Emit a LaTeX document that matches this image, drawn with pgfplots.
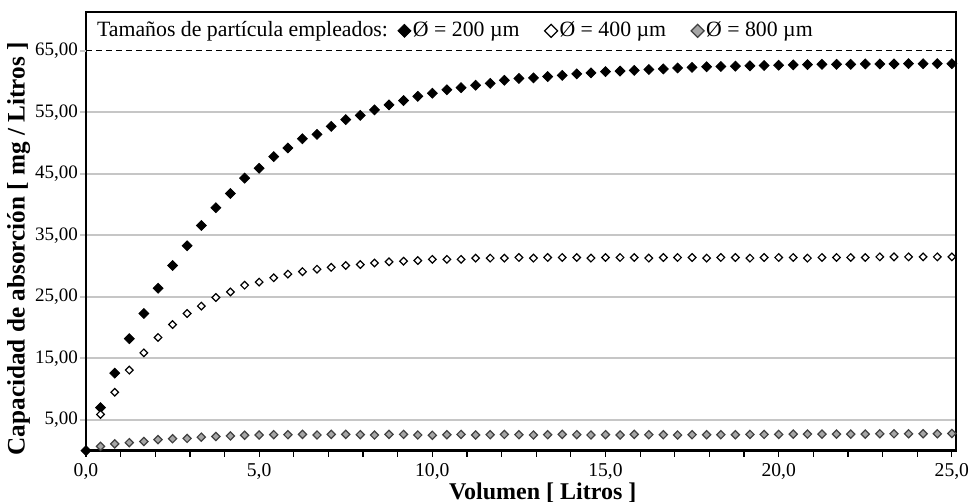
\documentclass[border=0pt]{standalone}
\usepackage{fontspec}
\setmainfont{Liberation Serif}
\usepackage{pgfplots}
\usepackage{pgfplotstable}
\pgfplotsset{compat=1.18}
\pgfplotsset{markleg/.style={only marks,
  legend image code/.code={\draw[##1, mark size=2.3pt] plot coordinates {(0pt,0pt)};}}}

% x: volumen [L]; a: 200 um, b: 400 um, c: 800 um
\pgfplotstableread{
x a b c
0 0 nan nan
0.42 7.0 5.9 0.7
0.83 12.6 9.5 1.1
1.25 18.2 13.1 1.3
1.67 22.3 15.9 1.5
2.08 26.4 18.4 1.8
2.50 30.1 20.5 1.95
2.92 33.3 22.3 2.0
3.33 36.6 23.5 2.2
3.75 39.5 24.9 2.3
4.17 41.8 25.8 2.4
4.58 44.3 26.9 2.5
5.00 45.9 27.4 2.55
5.42 47.8 28.1 2.6
5.83 49.2 28.7 2.6
6.25 50.7 29.1 2.65
6.67 51.4 29.5 2.55
7.08 52.7 29.8 2.65
7.50 53.8 30.1 2.65
7.92 54.5 30.25 2.6
8.33 55.4 30.5 2.55
8.75 56.2 30.7 2.65
9.17 56.9 30.8 2.65
9.58 57.6 30.9 2.55
10.00 58.1 31.1 2.5
10.42 58.65 31.1 2.6
10.83 59.0 31.1 2.65
11.25 59.4 31.3 2.55
11.67 59.7 31.3 2.6
12.08 60.2 31.3 2.65
12.50 60.5 31.4 2.6
12.92 60.6 31.3 2.55
13.33 60.8 31.4 2.6
13.75 61.0 31.4 2.65
14.17 61.25 31.4 2.6
14.58 61.4 31.3 2.55
15.00 61.6 31.4 2.6
15.42 61.7 31.4 2.55
15.83 61.8 31.4 2.65
16.25 61.95 31.3 2.6
16.67 62.05 31.4 2.6
17.08 62.2 31.4 2.55
17.50 62.3 31.4 2.6
17.92 62.4 31.3 2.6
18.33 62.45 31.4 2.6
18.75 62.5 31.4 2.6
19.17 62.55 31.3 2.65
19.58 62.6 31.4 2.65
20.00 62.65 31.4 2.65
20.42 62.7 31.4 2.7
20.83 62.75 31.3 2.7
21.25 62.8 31.4 2.7
21.67 62.8 31.4 2.7
22.08 62.8 31.4 2.7
22.50 62.85 31.4 2.7
22.92 62.85 31.5 2.75
23.33 62.85 31.5 2.75
23.75 62.9 31.5 2.75
24.17 62.9 31.5 2.75
24.58 62.9 31.5 2.75
25.00 62.9 31.5 2.8
}\datatab

\begin{document}
\begin{tikzpicture}
\path[use as bounding box] (0,0) rectangle (485pt,251pt);
\begin{axis}[
  at={(43pt,25.65pt)}, anchor=south west,
  scale only axis, width=435pt, height=219.35pt,
  xmin=0, xmax=25.12, ymin=0, ymax=71.3,
  clip=false,
  axis line style={line width=1.3pt},
  xtick={0,5,...,25}, minor x tick num=4,
  ytick={5,15,...,55}, extra y ticks={65},
  extra y tick style={grid=none},
  ymajorgrids, major grid style={gray!45, line width=1pt},
  tick align=outside, tick pos=left,
  major tick length=3pt, minor tick length=3pt,
  x tick style={black, line width=0.6pt},
  y tick style={gray!45, line width=1pt},
  /pgf/number format/assume math mode=true,
  xticklabel style={font=\fontsize{9.8}{10}\selectfont,
    /pgf/number format/.cd, fixed, fixed zerofill, precision=1, use comma},
  yticklabel style={font=\fontsize{9.5}{10}\selectfont, xshift=2.5pt,
    /pgf/number format/.cd, fixed, fixed zerofill, precision=2, use comma},
  xlabel={Volumen [ Litros ]},
  ylabel={Capacidad de absorción [ mg / Litros ]},
  xlabel style={at={(axis description cs:0.525,-0.096)}, anchor=center,
    font=\fontsize{12}{14}\selectfont\bfseries},
  ylabel style={at={(axis description cs:-0.0775,0.46)}, anchor=center,
    font=\fontsize{12.6}{14}\selectfont\bfseries},
  legend columns=-1,
  legend style={at={(0.01,0.957)}, anchor=west, draw=none, fill=none,
    font=\fontsize{10.9}{12}\selectfont, inner sep=0pt,
    nodes={inner xsep=1pt},
    /tikz/every even column/.append style={column sep=11.5pt}},
]
\addlegendimage{empty legend}
\addlegendentry{Tamaños de partícula empleados:\kern-7.5pt}

\addplot[black, densely dashed, line width=0.7pt, forget plot]
  coordinates {(0,65) (25.12,65)};

\addplot[markleg, mark=square*, mark size=1.75pt,
  mark options={rotate=45, fill=black, draw=black}]
  table[x=x, y=a] {\datatab};
\addlegendentry{Ø = 200 µm}

\addplot[markleg, mark=square*, mark size=1.35pt,
  mark options={rotate=45, fill=white, draw=black, line width=0.6pt}]
  table[x=x, y=b] {\datatab};
\addlegendentry{Ø = 400 µm}

\addplot[markleg, mark=square*, mark size=1.45pt,
  mark options={rotate=45, fill=gray!70, draw=black!75, line width=0.6pt}]
  table[x=x, y=c] {\datatab};
\addlegendentry{Ø = 800 µm}
\end{axis}
\end{tikzpicture}
\end{document}
